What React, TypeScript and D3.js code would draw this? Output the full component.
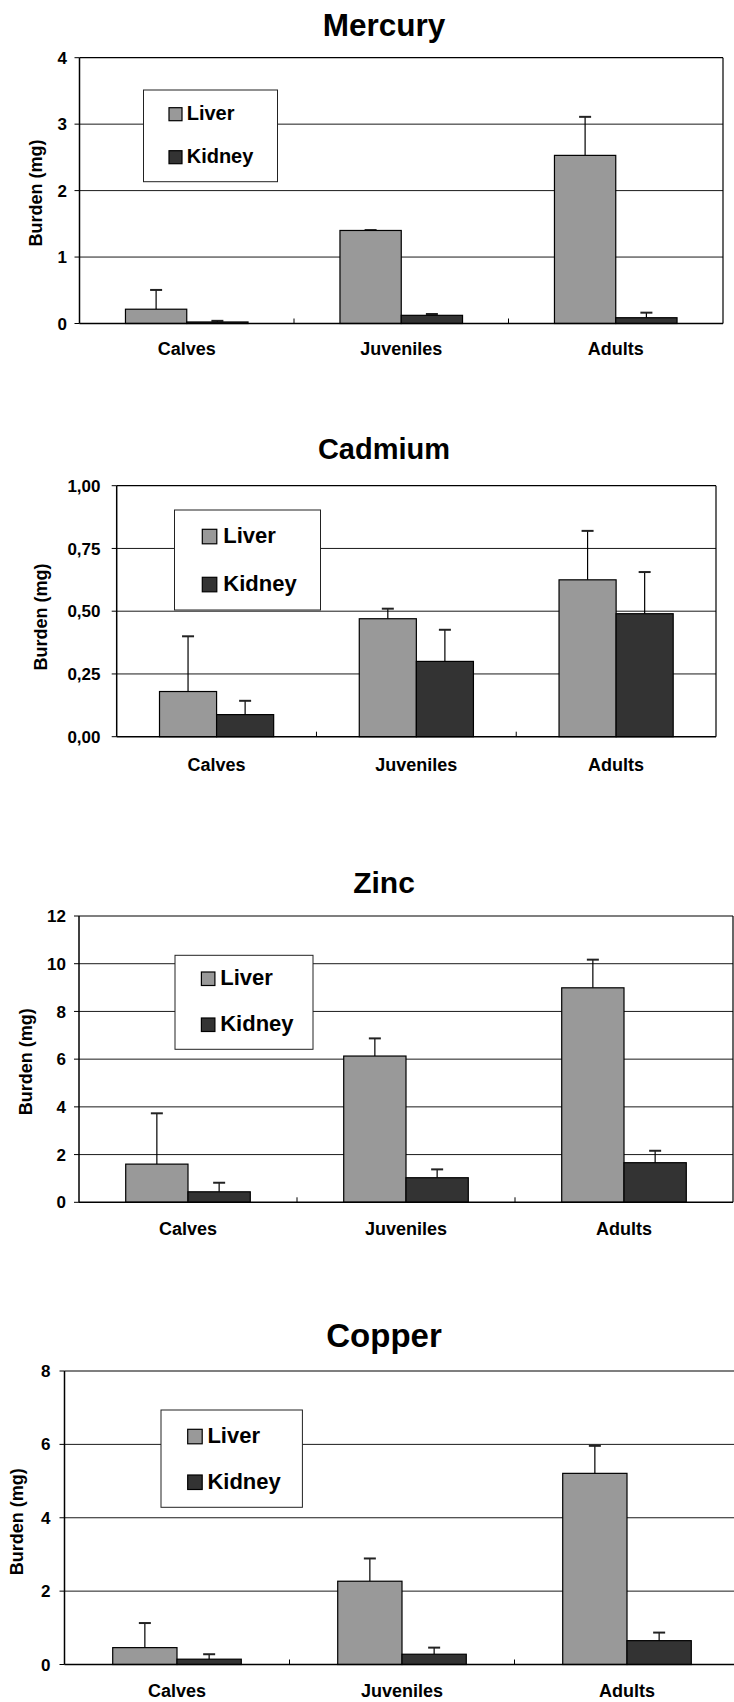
import React from "react";
import * as d3 from "d3";

// ---- data ----
const categories = ["Calves", "Juveniles", "Adults"];
const seriesNames = ["Liver", "Kidney"];

const mercuryLiver = [0.215, 1.4, 2.53];
const mercuryLiverSd = [0.29, 0.006, 0.58];
const mercuryKidney = [0.023, 0.123, 0.087];
const mercuryKidneySd = [0.017, 0.02, 0.076];
const mercuryTicks = [0, 1, 2, 3, 4];

const cadmiumLiver = [0.18, 0.47, 0.625];
const cadmiumLiverSd = [0.22, 0.04, 0.195];
const cadmiumKidney = [0.088, 0.3, 0.49];
const cadmiumKidneySd = [0.055, 0.126, 0.166];
const cadmiumTicks = [0, 0.25, 0.5, 0.75, 1];

const zincLiver = [1.6, 6.13, 8.99];
const zincLiverSd = [2.13, 0.74, 1.18];
const zincKidney = [0.44, 1.03, 1.66];
const zincKidneySd = [0.38, 0.35, 0.5];
const zincTicks = [0, 2, 4, 6, 8, 10, 12];

const copperLiver = [0.46, 2.27, 5.21];
const copperLiverSd = [0.67, 0.62, 0.75];
const copperKidney = [0.145, 0.28, 0.65];
const copperKidneySd = [0.135, 0.18, 0.22];
const copperTicks = [0, 2, 4, 6, 8];

const liverColor = "#999999";
const kidneyColor = "#333333";
const FONT = "'Liberation Sans', Arial, Helvetica, sans-serif";

type Legend = {
  x: number; y: number; w: number; h: number; sw: number; swX: number;
  y1: number; y2: number; textX: number; fs: number;
};

type Panel = {
  title: string;
  liver: number[]; liverSd: number[]; kidney: number[]; kidneySd: number[];
  ticks: number[]; decimals: number;
  left: number; right: number; top: number; bottom: number;
  titleY: number; titleSize: number;
  yLabelX: number; yLabelY: number; tickLabelX: number; catLabelY: number;
  legend: Legend;
};

const panels: Panel[] = [
  {
    title: "Mercury",
    liver: mercuryLiver, liverSd: mercuryLiverSd, kidney: mercuryKidney, kidneySd: mercuryKidneySd,
    ticks: mercuryTicks, decimals: 0,
    left: 79.5, right: 723, top: 57.7, bottom: 323.5,
    titleY: 36, titleSize: 31.5,
    yLabelX: 42, yLabelY: 193, tickLabelX: 67, catLabelY: 355,
    legend: { x: 143.5, y: 90, w: 134, h: 91.7, sw: 13, swX: 169, y1: 107.7, y2: 150.7, textX: 186.7, fs: 20 },
  },
  {
    title: "Cadmium",
    liver: cadmiumLiver, liverSd: cadmiumLiverSd, kidney: cadmiumKidney, kidneySd: cadmiumKidneySd,
    ticks: cadmiumTicks, decimals: 2,
    left: 116.7, right: 716, top: 485.7, bottom: 736.7,
    titleY: 459, titleSize: 29,
    yLabelX: 46.5, yLabelY: 617, tickLabelX: 100.5, catLabelY: 770.7,
    legend: { x: 174.5, y: 510, w: 146, h: 100, sw: 14.5, swX: 202.3, y1: 529.3, y2: 577.3, textX: 223.3, fs: 22 },
  },
  {
    title: "Zinc",
    liver: zincLiver, liverSd: zincLiverSd, kidney: zincKidney, kidneySd: zincKidneySd,
    ticks: zincTicks, decimals: 0,
    left: 79, right: 733, top: 916, bottom: 1202.3,
    titleY: 892.7, titleSize: 30,
    yLabelX: 31.5, yLabelY: 1061.7, tickLabelX: 66, catLabelY: 1235,
    legend: { x: 175, y: 955.3, w: 138, h: 94, sw: 13.5, swX: 201.4, y1: 972, y2: 1018, textX: 220.2, fs: 22 },
  },
  {
    title: "Copper",
    liver: copperLiver, liverSd: copperLiverSd, kidney: copperKidney, kidneySd: copperKidneySd,
    ticks: copperTicks, decimals: 0,
    left: 64.5, right: 739.5, top: 1371, bottom: 1664.5,
    titleY: 1346.7, titleSize: 33,
    yLabelX: 23, yLabelY: 1521.7, tickLabelX: 50.5, catLabelY: 1697.3,
    legend: { x: 161, y: 1410, w: 141.4, h: 97.3, sw: 14.5, swX: 187.7, y1: 1429.3, y2: 1475, textX: 207.4, fs: 22 },
  },
];

function fmt(v: number, decimals: number) {
  return d3.format(`.${decimals}f`)(v).replace(".", ",");
}

function ChartPanel({ p }: { p: Panel }) {
  const y = d3.scaleLinear().domain([0, p.ticks[p.ticks.length - 1]]).range([p.bottom, p.top]);
  const x = d3.scaleBand<string>().domain(categories).range([p.left, p.right]).padding(0);
  const catW = x.bandwidth();
  const x1 = d3
    .scaleBand<string>()
    .domain(seriesNames)
    .range([catW * 0.75 / 3.5, catW - catW * 0.75 / 3.5])
    .padding(0);
  const barW = x1.bandwidth();
  const capW = 12;
  const values: Record<string, number[]> = { Liver: p.liver, Kidney: p.kidney };
  const sds: Record<string, number[]> = { Liver: p.liverSd, Kidney: p.kidneySd };
  const colors: Record<string, string> = { Liver: liverColor, Kidney: kidneyColor };
  const lg = p.legend;

  return (
    <g>
      <text x={384} y={p.titleY} textAnchor="middle" fontFamily={FONT} fontWeight="bold" fontSize={p.titleSize} fill="#000">
        {p.title}
      </text>
      {/* gridlines */}
      {p.ticks.slice(1, -1).map((t) => (
        <line key={"g" + t} x1={p.left} x2={p.right} y1={y(t)} y2={y(t)} stroke="#1a1a1a" strokeWidth={1} />
      ))}
      {/* frame */}
      <line x1={p.left} x2={p.right} y1={p.top} y2={p.top} stroke="#000" strokeWidth={1.2} />
      <line x1={p.right} x2={p.right} y1={p.top} y2={p.bottom} stroke="#000" strokeWidth={1.2} />
      {/* legend */}
      <rect x={lg.x} y={lg.y} width={lg.w} height={lg.h} fill="#fff" stroke="#222" strokeWidth={1} />
      {seriesNames.map((s, i) => {
        const sy = i === 0 ? lg.y1 : lg.y2;
        return (
          <g key={"lg" + s}>
            <rect x={lg.swX} y={sy} width={lg.sw} height={lg.sw} fill={colors[s]} stroke="#000" strokeWidth={1.2} />
            <text x={lg.textX} y={sy + lg.sw - 0.5} fontFamily={FONT} fontWeight="bold" fontSize={lg.fs} fill="#000">
              {s}
            </text>
          </g>
        );
      })}
      {/* bars */}
      {categories.map((c, ci) => (
        <g key={"c" + c}>
          {seriesNames.map((s) => {
            const v = values[s][ci];
            const sd = sds[s][ci];
            const bx = (x(c) as number) + (x1(s) as number);
            const cx = bx + barW / 2;
            return (
              <g key={s}>
                <line x1={cx} x2={cx} y1={y(v)} y2={y(v + sd)} stroke="#000" strokeWidth={1.2} />
                <line x1={cx - capW / 2} x2={cx + capW / 2} y1={y(v + sd)} y2={y(v + sd)} stroke="#222" strokeWidth={2} />
                <rect x={bx} y={y(v)} width={barW} height={p.bottom - y(v)} fill={colors[s]} stroke="#000" strokeWidth={1.2} />
              </g>
            );
          })}
          <text x={(x(c) as number) + catW / 2} y={p.catLabelY} textAnchor="middle" fontFamily={FONT} fontWeight="bold" fontSize={18} fill="#000">
            {c}
          </text>
        </g>
      ))}
      {/* category ticks */}
      {categories.slice(1).map((c) => (
        <line key={"ct" + c} x1={x(c) as number} x2={x(c) as number} y1={p.bottom} y2={p.bottom - 5} stroke="#000" strokeWidth={1} />
      ))}
      {/* axes */}
      <line x1={p.left} x2={p.right} y1={p.bottom} y2={p.bottom} stroke="#000" strokeWidth={1.5} />
      <line x1={p.left} x2={p.left} y1={p.top} y2={p.bottom} stroke="#000" strokeWidth={1.5} />
      {p.ticks.map((t) => (
        <g key={"t" + t}>
          <line x1={p.left - 5} x2={p.left} y1={y(t)} y2={y(t)} stroke="#000" strokeWidth={1} />
          <text x={p.tickLabelX} y={y(t)} dy="0.36em" textAnchor="end" fontFamily={FONT} fontWeight="bold" fontSize={17} fill="#000">
            {fmt(t, p.decimals)}
          </text>
        </g>
      ))}
      <text
        transform={`translate(${p.yLabelX},${p.yLabelY}) rotate(-90)`}
        textAnchor="middle"
        fontFamily={FONT}
        fontWeight="bold"
        fontSize={18}
        fill="#000"
      >
        Burden (mg)
      </text>
    </g>
  );
}

export default function App() {
  return (
    <svg
      width={734}
      height={1702}
      viewBox="0 0 734 1702"
      style={{ position: "absolute", left: 0, top: 0, background: "#fff" }}
    >
      <rect x={0} y={0} width={734} height={1702} fill="#fff" />
      {panels.map((p) => (
        <ChartPanel key={p.title} p={p} />
      ))}
    </svg>
  );
}
